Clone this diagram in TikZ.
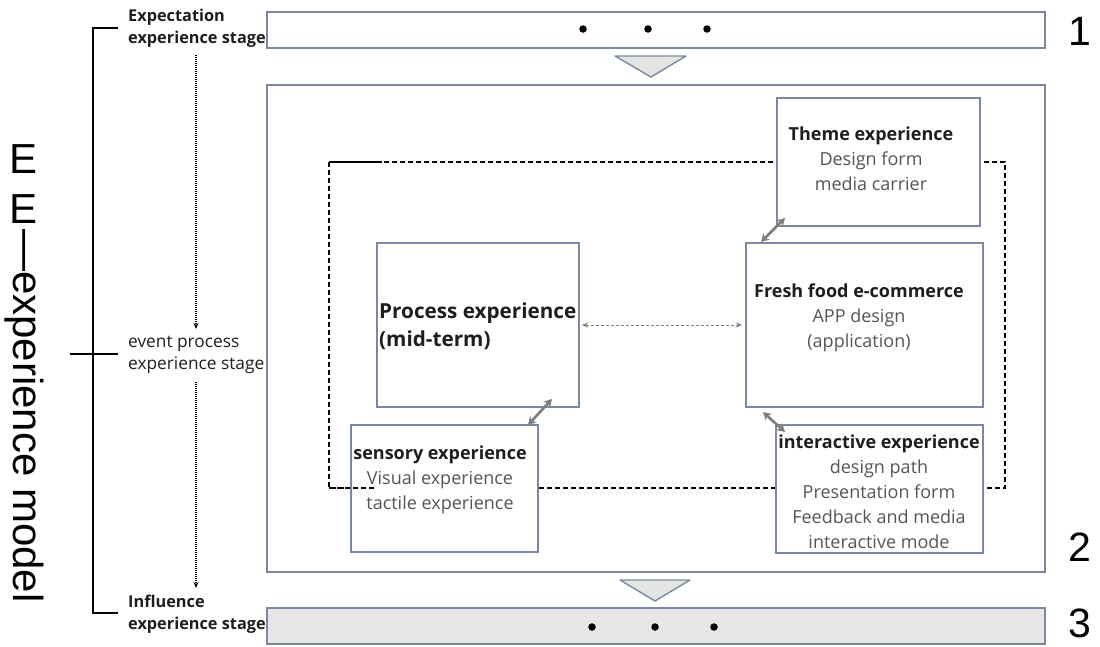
\documentclass[tikz,border=0pt]{standalone}
\usepackage{fontspec}
\setmainfont{Open Sans}
\newfontfamily\arialf{Liberation Sans}
\usetikzlibrary{arrows.meta}
\definecolor{boxline}{RGB}{122,136,162}
\definecolor{trifill}{RGB}{228,228,228}
\definecolor{stagefill}{RGB}{230,230,230}
\definecolor{subtext}{RGB}{85,85,85}
\definecolor{headtext}{RGB}{30,30,30}
\definecolor{linkgray}{RGB}{125,125,125}
\tikzset{
  frame/.style={draw=boxline, line width=1.4pt, fill=white, inner sep=0pt, outer sep=0pt, anchor=north west},
  stagebar/.style={frame, fill=stagefill},
  tri/.style={draw=boxline, line width=1.4pt, fill=trifill, line join=round},
  dotmark/.style={circle, fill=black, inner sep=0pt, minimum size=7.5pt},
  boxtext/.style={align=center, font=\fontsize{18}{25}\selectfont, text=subtext},
  stagetext/.style={align=left, anchor=west, font=\fontsize{17.3}{22}\selectfont, text=headtext, inner sep=0pt},
  stagebold/.style={stagetext, font=\bfseries\fontsize{16.3}{22}\selectfont},
  bignum/.style={font=\arialf\fontsize{41}{41}\selectfont, text=black, inner sep=0pt},
  link/.style={draw=linkgray, line width=2.6pt, {Stealth[length=8pt,width=9pt]}-{Stealth[length=8pt,width=9pt]}},
  sidelink/.style={draw=linkgray, line width=1pt, dash pattern=on 3pt off 2pt, {Stealth[length=6pt,width=5pt]}-{Stealth[length=6pt,width=5pt]}},
  flowdots/.style={draw=black, line width=1.2pt, dash pattern=on 1pt off 1pt, -{Stealth[length=6pt,width=5pt]}},
  loop/.style={draw=black, line width=1.6pt, dash pattern=on 5pt off 3pt},
  titlefont/.style={font=\arialf\fontsize{42}{42}\selectfont, inner sep=0pt},
}
\begin{document}
\begin{tikzpicture}[x=1pt,y=-1pt]
\useasboundingbox (0,0) rectangle (1100,646);

% stage bars and the main frame
\node[frame, minimum width=778pt, minimum height=36pt] (bar1) at (267,12) {};
\node[frame, minimum width=778pt, minimum height=487pt] (main) at (267,85) {};
\node[stagebar, minimum width=778pt, minimum height=36pt] (bar3) at (267,608) {};

\node[dotmark] (a1) at (583,29) {};
\node[dotmark] (a2) at (648,29) {};
\node[dotmark] (a3) at (707,29) {};
\node[dotmark] (c1) at (592,627) {};
\node[dotmark] (c2) at (655,627) {};
\node[dotmark] (c3) at (714,627) {};

% downward triangles between stages
\draw[tri] (615,56) -- (686,56) -- (651,77) -- cycle;
\draw[tri] (620,580) -- (690,580) -- (655,601) -- cycle;

\node[bignum] (n1) at (1080,31) {1};
\node[bignum] (n2) at (1080,547) {2};
\node[bignum] (n3) at (1080,623) {3};

% dashed loop behind the experience boxes
\draw[loop] (329,162) rectangle (1005,488);
\draw[black, line width=1.6pt] (329,162) -- (382,162);

% experience boxes
\node[frame, minimum width=203pt, minimum height=128pt] (theme) at (777,98) {};
\node[frame, minimum width=237pt, minimum height=164pt] (fresh) at (746,243) {};
\node[frame, minimum width=202pt, minimum height=164pt] (process) at (377,243) {};
\node[frame, minimum width=187pt, minimum height=127pt] (sensory) at (351,425) {};
\node[frame, minimum width=207pt, minimum height=128pt] (inter) at (776,425) {};

\draw[loop] (329,488) -- (375,488);

\node[boxtext] (themet) at (871,159) {\textbf{\color{headtext}Theme experience}\\Design form\\media carrier};
\node[boxtext] (fresht) at (859,317.5) {\textbf{\color{headtext}Fresh food e-commerce}\\APP design\\(application)};
\node[boxtext, align=left, anchor=west, font=\bfseries\fontsize{20.7}{28}\selectfont, text=headtext, inner sep=0pt] (processt) at (379,326) {Process experience\\(mid-term)};
\node[boxtext] (sensoryt) at (440,479.5) {\textbf{\color{headtext}sensory experience}\\Visual experience\\tactile experience};
\node[boxtext] (intert) at (879,491.5) {\textbf{\color{headtext}interactive experience}\\design path\\Presentation form\\Feedback and media\\interactive mode};

% links between boxes
\draw[link] ([xshift=8pt,yshift=8pt]theme.south west) -- ([xshift=15pt,yshift=1pt]fresh.north west);
\draw[link] ([xshift=-27pt,yshift=8pt]process.south east) -- ([xshift=-10pt]sensory.north east);
\draw[link] ([xshift=17pt,yshift=-5pt]fresh.south west) -- ([xshift=9pt,yshift=-7pt]inter.north west);
\draw[sidelink] ([xshift=3pt]process.east) -- ([xshift=-4pt]fresh.west);

% stage labels and timeline
\node[stagebold] (s1) at (128,28) {Expectation\\experience stage};
\node[stagetext] (s2) at (128,355) {event process\\experience stage};
\node[stagebold] (s3) at (128,614) {Influence\\experience stage};

\draw[flowdots] (196,55) -- (196,329);
\draw[flowdots] (196,382) -- (196,588);

\coordinate (bt) at (118,28);
\coordinate (bb) at (118,613);
\coordinate (bm) at (118,354);
\draw[black, line width=1.4pt] (bt) -- (93,28) -- (93,613) -- (bb);
\draw[black, line width=1.4pt] (70,354) -- (bm);

% model title: two upright letters, then the rest set along the page
\node[titlefont, anchor=base] (e1) at (24,173) {E};
\node[titlefont, anchor=base] (e2) at (24,223) {E};
\node[titlefont, rotate=-90, anchor=base west] (title) at (13,229) {—experience model};
\end{tikzpicture}
\end{document}
